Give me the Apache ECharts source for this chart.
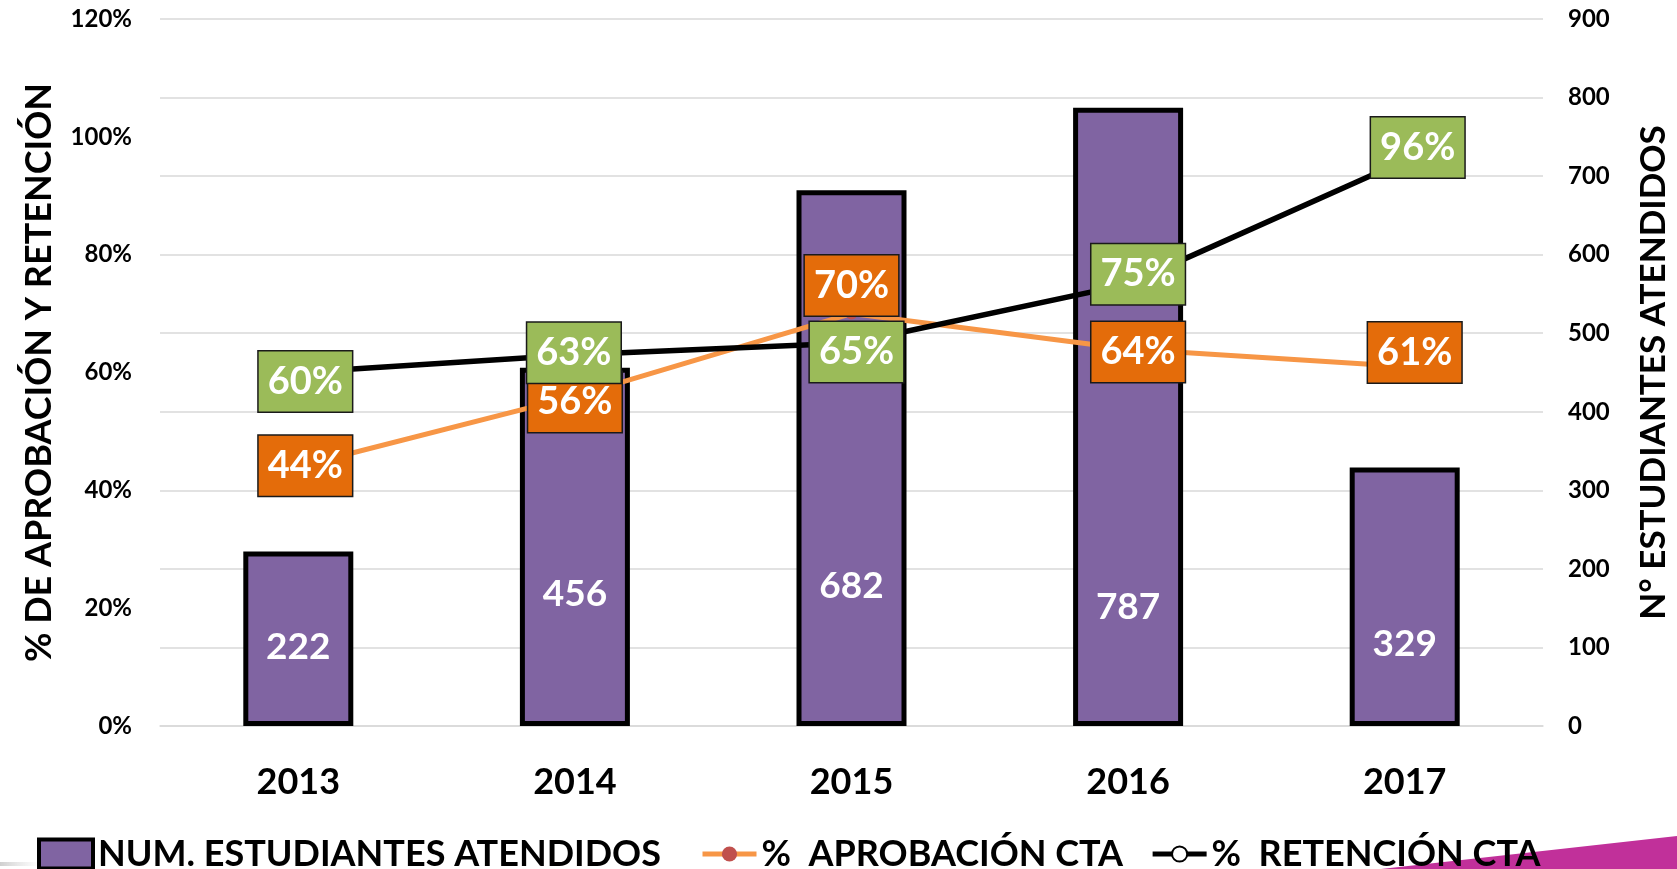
<!DOCTYPE html>
<html>
<head>
<meta charset="utf-8">
<title>Estudiantes atendidos</title>
<script src="https://cdn.jsdelivr.net/npm/echarts@6/dist/echarts.min.js"></script>
<style>
  html, body { margin: 0; padding: 0; background: #fff; }
  #chart { width: 1677px; height: 869px; }
</style>
</head>
<body>
<div id="chart"></div>
<script>
// datos
const years = ['2013', '2014', '2015', '2016', '2017']
const estudiantes = [222, 456, 682, 787, 329]
const aprobacion = [0.44, 0.56, 0.70, 0.64, 0.61]
const retencion = [0.60, 0.63, 0.65, 0.75, 0.96]

const pctTicks = [0, 0.2, 0.4, 0.6, 0.8, 1.0, 1.2]
const numTicks = [0, 100, 200, 300, 400, 500, 600, 700, 800, 900]

// ajustes de posicion de etiquetas (como en el original de Excel)
const barLabelLift = [60, 113, 121, 100, 63]
const aprobOffset = [[7, -1], [0, 6], [0, -28], [10, 3], [10, -14]]
const retenOffset = [[7, 9], [-1, -2], [5, 9], [10, -10], [13, -13]]

const FONT = 'Lato, "Open Sans", sans-serif'

const chart = echarts.init(document.getElementById('chart'))

function boxLabel(bg) {
  return {
    show: true,
    position: 'inside',
    formatter: p => Math.round(p.value * 100) + '%',
    color: '#fff',
    fontFamily: FONT,
    fontWeight: 'bold',
    fontSize: 38,
    lineHeight: 40,
    backgroundColor: bg,
    borderColor: '#1a1a1a',
    borderWidth: 1.5,
    padding: [10, 9, 10, 9]
  }
}

const legendText = {
  fontFamily: FONT,
  fontWeight: 'bold',
  fontSize: 36,
  color: '#000'
}

chart.setOption({
  animation: false,
  textStyle: { fontFamily: FONT },
  grid: {
    left: 160,
    right: 134,
    top: 19,
    bottom: 143,
    containLabel: false,
    outerBoundsMode: 'none'
  },
  legend: [
    {
      left: 32,
      top: 831,
      itemWidth: 54,
      itemHeight: 29,
      textStyle: legendText,
      data: [{
        name: 'NUM. ESTUDIANTES ATENDIDOS',
        icon: 'rect',
        itemStyle: { color: '#8064A2', borderColor: '#000', borderWidth: 4 }
      }]
    },
    {
      left: 695,
      top: 831,
      itemWidth: 54,
      itemHeight: 19,
      itemGap: 27,
      textStyle: legendText,
      lineStyle: { width: 5 },
      data: ['%  APROBACIÓN CTA', '%  RETENCIÓN CTA']
    }
  ],
  graphic: [
    {
      type: 'polygon',
      z: -1,
      shape: { points: [[1381, 869], [1677, 836], [1677, 869]] },
      style: { fill: '#C1309A' }
    },
    {
      type: 'rect',
      z: -1,
      shape: { x: 0, y: 862, width: 40, height: 4 },
      style: {
        fill: new echarts.graphic.LinearGradient(0, 0, 1, 0, [
          { offset: 0, color: '#cfcfcf' },
          { offset: 1, color: 'rgba(220,220,220,0)' }
        ])
      }
    }
  ],
  xAxis: {
    type: 'category',
    data: years,
    axisLine: { show: true, lineStyle: { color: '#D9D9D9', width: 1.5 } },
    axisTick: { show: false },
    axisLabel: {
      margin: 38,
      color: '#000',
      fontFamily: FONT,
      fontWeight: 'bold',
      fontSize: 36
    }
  },
  yAxis: [
    {
      type: 'value',
      min: pctTicks[0],
      max: pctTicks[pctTicks.length - 1],
      interval: 0.2,
      name: '% DE APROBACIÓN Y RETENCIÓN',
      nameLocation: 'middle',
      nameRotate: 90,
      nameGap: 103,
      nameTextStyle: {
        color: '#000',
        fontFamily: FONT,
        fontWeight: 'bold',
        fontSize: 36
      },
      axisLine: { show: false },
      axisTick: { show: false },
      splitLine: { show: false },
      axisLabel: {
        margin: 28,
        color: '#000',
        fontFamily: FONT,
        fontWeight: 'bold',
        fontSize: 24,
        formatter: v => Math.round(v * 100) + '%'
      }
    },
    {
      type: 'value',
      min: numTicks[0],
      max: numTicks[numTicks.length - 1],
      interval: 100,
      name: 'N° ESTUDIANTES ATENDIDOS',
      nameLocation: 'middle',
      nameRotate: 90,
      nameGap: 93,
      nameTextStyle: {
        color: '#000',
        fontFamily: FONT,
        fontWeight: 'bold',
        fontSize: 35
      },
      axisLine: { show: false },
      axisTick: { show: false },
      splitLine: { show: true, lineStyle: { color: '#D9D9D9', width: 1.5 } },
      axisLabel: {
        margin: 25,
        color: '#000',
        fontFamily: FONT,
        fontWeight: 'bold',
        fontSize: 24
      }
    }
  ],
  series: [
    {
      name: 'NUM. ESTUDIANTES ATENDIDOS',
      type: 'bar',
      yAxisIndex: 1,
      barWidth: 110,
      data: estudiantes.map((v, i) => ({
        value: v,
        label: { distance: barLabelLift[i] }
      })),
      itemStyle: {
        color: '#8064A2',
        borderColor: '#000',
        borderWidth: 5
      },
      label: {
        show: true,
        position: 'insideBottom',
        color: '#fff',
        fontFamily: FONT,
        fontWeight: 'bold',
        fontSize: 37
      }
    },
    {
      name: '%  APROBACIÓN CTA',
      type: 'line',
      yAxisIndex: 0,
      data: aprobacion.map((v, i) => ({
        value: v,
        label: { offset: aprobOffset[i] }
      })),
      symbol: 'circle',
      symbolSize: 12,
      lineStyle: { color: '#F79646', width: 5 },
      itemStyle: { color: '#C0504D' },
      label: boxLabel('#E46C0A')
    },
    {
      name: '%  RETENCIÓN CTA',
      type: 'line',
      yAxisIndex: 0,
      data: retencion.map((v, i) => ({
        value: v,
        label: { offset: retenOffset[i] }
      })),
      symbol: 'circle',
      symbolSize: 9,
      lineStyle: { color: '#000', width: 5.5 },
      itemStyle: { color: '#fff', borderColor: '#000', borderWidth: 1.5 },
      label: boxLabel('#9BBB59')
    }
  ]
})
</script>
</body>
</html>
